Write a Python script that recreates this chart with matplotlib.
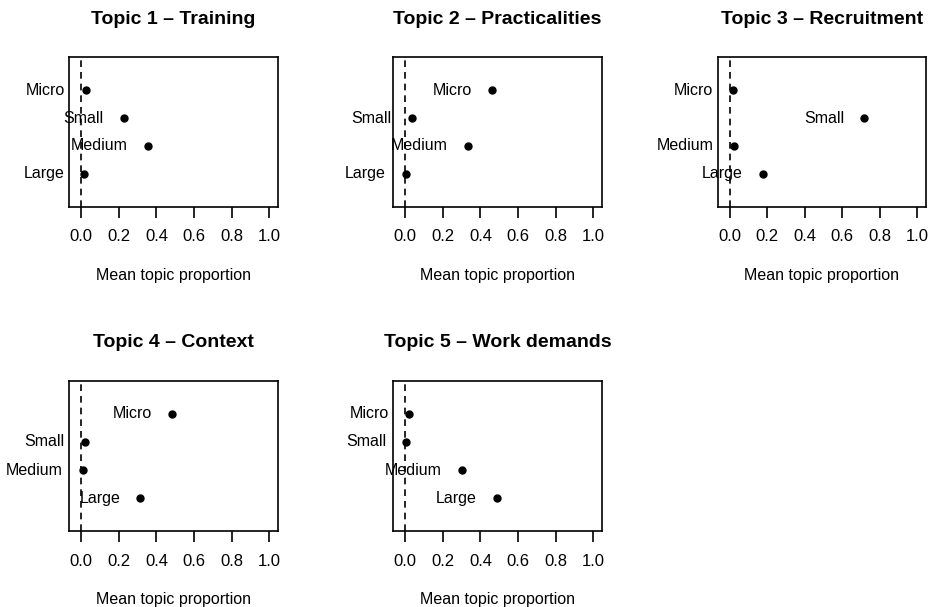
import matplotlib.pyplot as plt

plt.rcParams['font.family'] = ['Liberation Sans', 'DejaVu Sans']

# point estimates of mean topic proportion by organisation size
sizes = ['Micro', 'Small', 'Medium', 'Large']
titles = ['Topic 1 \u2013 Training', 'Topic 2 \u2013 Practicalities',
          'Topic 3 \u2013 Recruitment', 'Topic 4 \u2013 Context',
          'Topic 5 \u2013 Work demands']
training = [0.023, 0.227, 0.355, 0.016]
practicalities = [0.461, 0.034, 0.332, 0.002]
recruitment = [0.020, 0.716, 0.021, 0.177]
context = [0.482, 0.018, 0.007, 0.314]
work_demands = [0.018, 0.004, 0.302, 0.489]
estimates = [training, practicalities, recruitment, context, work_demands]

W, H = 936, 607
fig = plt.figure(figsize=(W / 100, H / 100), dpi=100)

# panel boxes in pixels: left, right, top, bottom
cols = [(69.3, 277.7), (393.3, 601.7), (717.7, 926.0)]
rows = [(57.0, 207.0), (380.7, 531.3)]
ypos = [4, 3, 2, 1]

for k, (title, vals) in enumerate(zip(titles, estimates)):
    x0, x1 = cols[k % 3]
    y0, y1 = rows[k // 3]
    ax = fig.add_axes([x0 / W, 1 - y1 / H, (x1 - x0) / W, (y1 - y0) / H])
    ax.axvline(0, color='black', linestyle=(0, (4, 3)), linewidth=1.2)
    ax.plot(vals, ypos, 'o', color='black', markersize=5)
    for v, y, lab in zip(vals, ypos, sizes):
        ax.annotate(lab, (v, y), xytext=(-14.5, 0), textcoords='offset points',
                    ha='right', va='center', fontsize=11.5, annotation_clip=False)
    ax.set_xlim(-0.064, 1.046)
    ax.set_ylim(-0.18, 5.18)
    ax.set_yticks([])
    ax.set_xticks([0.0, 0.2, 0.4, 0.6, 0.8, 1.0])
    ax.set_xticklabels(['0.0', '0.2', '0.4', '0.6', '0.8', '1.0'])
    ax.tick_params(axis='x', length=8, width=1.2, pad=8, labelsize=12)
    for s in ax.spines.values():
        s.set_linewidth(1.2)
    ax.set_xlabel('Mean topic proportion', fontsize=11.5, labelpad=17)
    ax.set_title(title, fontsize=14, fontweight='bold', pad=24)

fig.savefig('out.png', dpi=100, facecolor='white')
